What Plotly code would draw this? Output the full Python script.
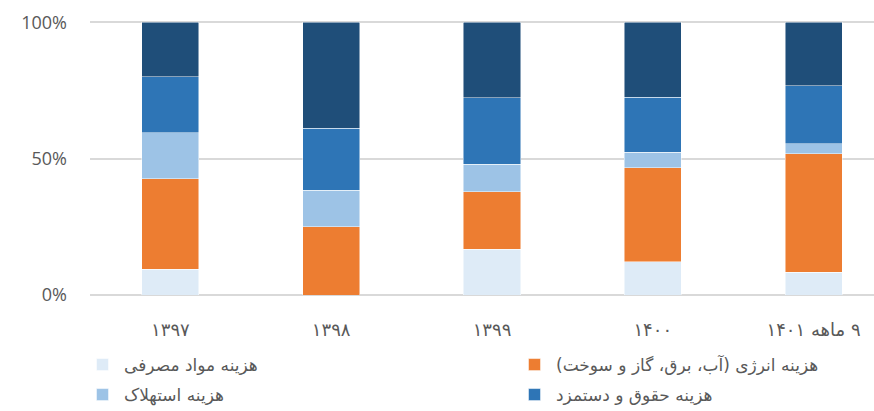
import plotly.graph_objects as go

RLM = "\u200f"

years = ["۱۳۹۷", "۱۳۹۸", "۱۳۹۹", "۱۴۰۰", RLM + "۹ ماهه ۱۴۰۱"]

consumables = [9.5, 0.0, 16.7, 12.2, 8.4]
energy = [33.1, 25.1, 21.2, 34.5, 43.4]
depreciation = [17.0, 13.3, 10.1, 5.6, 3.7]
salaries = [20.5, 22.7, 24.4, 20.3, 21.3]
other = [19.9, 38.9, 27.6, 27.4, 23.2]

y_ticks = [0, 50, 100]
y_labels = ["0%", "50%", "100%"]

names = [
    "هزینه مواد مصرفی",
    RLM + "هزینه انرژی (آب، برق، گاز و سوخت)" + RLM,
    "هزینه استهلاک",
    "هزینه حقوق و دستمزد",
    "سایر هزینه‌ها",
]
colors = ["#DEEBF7", "#ED7D31", "#9DC3E6", "#2E75B6", "#1F4E79"]
# one small legend box per entry: (x px, y px)
legend_pos = {
    "legend": (81, 365),
    "legend2": (513, 365),
    "legend3": (81, 395),
    "legend4": (513, 395),
}
legend_ids = ["legend", "legend2", "legend3", "legend4", None]

fig = go.Figure()
for vals, name, color, lg in zip(
    [consumables, energy, depreciation, salaries, other], names, colors, legend_ids
):
    fig.add_trace(go.Bar(
        x=years, y=vals, name=name, width=0.355,
        marker=dict(color=color, line=dict(color="rgba(255,255,255,0.6)", width=0.8)),
        showlegend=lg is not None,
        legend=lg if lg else "legend",
    ))

legend_layout = {}
for key, (px_x, px_y) in legend_pos.items():
    legend_layout[key] = dict(
        xref="container", yref="container",
        x=px_x / 874, y=1 - px_y / 411, xanchor="left", yanchor="middle",
        itemwidth=33,
        font=dict(family="DejaVu Sans", size=17, color="#595959"),
        bgcolor="rgba(0,0,0,0)",
    )

fig.update_layout(
    width=874, height=411,
    barmode="stack",
    margin=dict(l=90, r=0, t=21, b=116, autoexpand=False),
    paper_bgcolor="white", plot_bgcolor="white",
    **legend_layout,
    xaxis=dict(
        range=[-0.5, 4.376], showgrid=False, showline=False, ticks="",
        ticklabelstandoff=22,
        tickfont=dict(family="DejaVu Sans", size=18, color="#595959"),
    ),
    yaxis=dict(
        # a little headroom so the 100% gridline is not dropped at the edge
        range=[0, 100.5], tickvals=y_ticks, ticktext=y_labels,
        showgrid=True, gridcolor="#D9D9D9", gridwidth=1.5,
        zeroline=True, zerolinecolor="#D9D9D9", zerolinewidth=1.5,
        ticks="", ticklabelstandoff=22,
        tickfont=dict(family="Open Sans", size=18, color="#595959"),
    ),
)

# page body has a default 8px margin; drop it so the figure fills the window
fig.write_html(
    "out.html",
    config={"displayModeBar": False},
    post_script="document.body.style.margin='0';",
)
